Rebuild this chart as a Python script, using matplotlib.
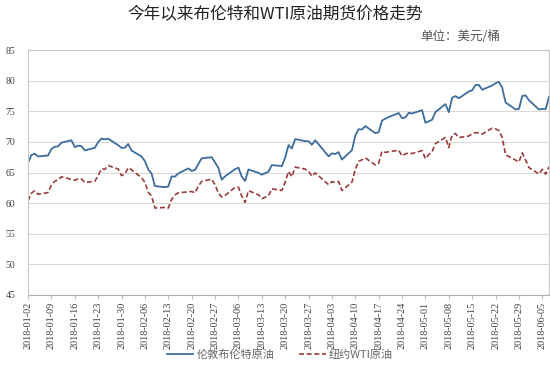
import matplotlib
matplotlib.use("Agg")
import matplotlib.pyplot as plt
import pandas as pd

title = "今年以来布伦特和WTI原油期货价格走势"
unit_label = "单位：美元/桶"
brent_name = "伦敦布伦特原油"
wti_name = "纽约WTI原油"

dates = [
    "2018-01-02", "2018-01-03", "2018-01-04", "2018-01-05", "2018-01-08", "2018-01-09", "2018-01-10",
    "2018-01-11", "2018-01-12", "2018-01-15", "2018-01-16", "2018-01-17", "2018-01-18", "2018-01-19",
    "2018-01-22", "2018-01-23", "2018-01-24", "2018-01-25", "2018-01-26", "2018-01-29", "2018-01-30",
    "2018-01-31",
    "2018-02-01", "2018-02-02", "2018-02-05", "2018-02-06", "2018-02-07", "2018-02-08", "2018-02-09",
    "2018-02-12", "2018-02-13", "2018-02-14", "2018-02-15", "2018-02-16", "2018-02-19", "2018-02-20",
    "2018-02-21", "2018-02-22", "2018-02-23", "2018-02-26", "2018-02-27", "2018-02-28",
    "2018-03-01", "2018-03-02", "2018-03-05", "2018-03-06", "2018-03-07", "2018-03-08", "2018-03-09",
    "2018-03-12", "2018-03-13", "2018-03-14", "2018-03-15", "2018-03-16", "2018-03-19", "2018-03-20",
    "2018-03-21", "2018-03-22", "2018-03-23", "2018-03-26", "2018-03-27", "2018-03-28", "2018-03-29",
    "2018-04-02", "2018-04-03", "2018-04-04", "2018-04-05", "2018-04-06", "2018-04-09", "2018-04-10",
    "2018-04-11", "2018-04-12", "2018-04-13", "2018-04-16", "2018-04-17", "2018-04-18", "2018-04-19",
    "2018-04-20", "2018-04-23", "2018-04-24", "2018-04-25", "2018-04-26", "2018-04-27", "2018-04-30",
    "2018-05-01", "2018-05-02", "2018-05-03", "2018-05-04", "2018-05-07", "2018-05-08", "2018-05-09",
    "2018-05-10", "2018-05-11", "2018-05-14", "2018-05-15", "2018-05-16", "2018-05-17", "2018-05-18",
    "2018-05-21", "2018-05-22", "2018-05-23", "2018-05-24", "2018-05-25", "2018-05-28", "2018-05-29",
    "2018-05-30", "2018-05-31",
    "2018-06-01", "2018-06-04", "2018-06-05", "2018-06-06", "2018-06-07",
]

brent = [
    66.57, 67.84, 68.07, 67.62, 67.78, 68.82, 69.20, 69.26, 69.87, 70.26, 69.15, 69.38, 69.31, 68.61,
    69.03, 69.96, 70.53, 70.42, 70.52, 69.46, 69.02, 69.05,
    69.65, 68.58, 67.62, 66.86, 65.51, 64.81, 62.79, 62.59, 62.72, 64.36, 64.33, 64.84, 65.67, 65.25,
    65.42, 66.39, 67.31, 67.50, 66.63, 65.78,
    63.83, 64.37, 65.54, 65.79, 64.34, 63.61, 65.49, 64.95, 64.64, 64.89, 65.12, 66.21, 66.05, 67.42,
    69.47, 68.91, 70.45, 70.12, 70.11, 69.53, 70.27,
    67.64, 68.12, 68.02, 68.33, 67.11, 68.65, 71.04, 72.06, 72.02, 72.58, 71.42, 71.58, 73.48, 73.78,
    74.06, 74.71, 73.86, 74.00, 74.74, 74.64, 75.17,
    73.13, 73.36, 73.62, 74.87, 76.17, 74.85, 77.21, 77.47, 77.12, 78.23, 78.43, 79.28, 79.30, 78.51,
    79.22, 79.57, 79.80, 78.79, 76.44, 75.30, 75.39, 77.50, 77.59,
    76.79, 75.29, 75.38, 75.36, 77.32,
]

wti = [
    60.37, 61.63, 62.01, 61.44, 61.73, 62.96, 63.57, 63.80, 64.30, None, 63.73, 63.97, 63.95, 63.37,
    63.57, 64.47, 65.61, 65.51, 66.14, 65.56, 64.50, 64.73,
    65.80, 65.45, 64.15, 63.39, 61.79, 61.15, 59.20, 59.29, 59.19, 60.60, 61.34, 61.68, None, 61.90,
    61.68, 62.77, 63.55, 63.91, 63.01, 61.64,
    60.99, 61.25, 62.57, 62.60, 61.15, 60.12, 62.04, 61.36, 60.71, 60.96, 61.19, 62.34, 62.06, 63.40,
    65.17, 64.30, 65.88, 65.55, 65.25, 64.38, 64.94,
    63.01, 63.51, 63.37, 63.54, 62.06, 63.42, 65.51, 66.82, 67.07, 67.39, 66.22, 66.52, 68.47, 68.29,
    68.38, 68.64, 67.70, 68.05, 68.19, 68.10, 68.57,
    67.25, 67.93, 68.43, 69.72, 70.73, 69.06, 71.14, 71.36, 70.70, 70.96, 71.31, 71.49, 71.49, 71.28,
    72.24, 72.13, 71.84, 70.71, 67.88, None, 66.73, 68.21, 67.04,
    65.81, 64.75, 65.52, 64.73, 65.95,
]

tick_dates = ["2018-01-02", "2018-01-09", "2018-01-16", "2018-01-23", "2018-01-30", "2018-02-06",
              "2018-02-13", "2018-02-20", "2018-02-27", "2018-03-06", "2018-03-13", "2018-03-20",
              "2018-03-27", "2018-04-03", "2018-04-10", "2018-04-17", "2018-04-24", "2018-05-01",
              "2018-05-08", "2018-05-15", "2018-05-22", "2018-05-29", "2018-06-05"]
y_ticks = [45, 50, 55, 60, 65, 70, 75, 80, 85]

df = pd.DataFrame({"date": pd.to_datetime(dates),
                   "brent": pd.array(brent, dtype="Float64"),
                   "wti": pd.array(wti, dtype="Float64")})

plt.rcParams['font.family'] = ['Noto Sans CJK SC', 'DejaVu Sans']

fig = plt.figure(figsize=(5.5, 3.7), dpi=100)
ax = fig.add_axes([28/550, 1-295/370, (549-28)/550, (295-50)/370])

b = df[["date", "brent"]].dropna()
w = df[["date", "wti"]].dropna()
ax.plot(b["date"], b["brent"].astype(float), color="#3d6d9c", lw=1.3, label=brent_name,
        solid_joinstyle="round")
ax.plot(w["date"], w["wti"].astype(float), color="#9a3b3b", lw=1.2, linestyle=(0, (3, 1.6)),
        label=wti_name)

ax.set_ylim(45, 85)
ax.set_yticks(y_ticks)
ax.set_yticklabels([str(v) for v in y_ticks], family="Liberation Serif", fontsize=7, color="#404040")
ax.set_xlim(pd.Timestamp("2018-01-02"), pd.Timestamp("2018-06-07"))
tks = pd.to_datetime(tick_dates)
ax.set_xticks(tks)
ax.set_xticklabels(tick_dates, rotation=90, family="Liberation Serif", fontsize=7.3, color="#404040",
                   ha="center", va="top")
ax.grid(axis="y", color="#d9d9d9", lw=0.8)
ax.set_axisbelow(True)
ax.tick_params(axis="y", length=0, pad=9)
ax.tick_params(axis="x", length=3, color="#bfbfbf", direction="out", pad=2)
for s in ax.spines.values():
    s.set_color("#c8c8c8")
    s.set_linewidth(0.8)
ax.spines["bottom"].set_color("#b0b0b0")

fig.text(0.5, 1-15/370, title, ha="center", va="center", fontsize=12, color="#222222",
         family=["Noto Sans CJK SC"])
fig.text(500/550, 1-37/370, unit_label, ha="right", va="center", fontsize=9, color="#555555",
         family=["Noto Sans CJK SC"])

leg = fig.legend(loc="center", bbox_to_anchor=(280/550, 1-355/370), ncol=2, frameon=False,
                 fontsize=8, handlelength=2.4, columnspacing=2.2, handletextpad=0.3)
for t in leg.get_texts():
    t.set_color("#666666")

fig.savefig("out.png", dpi=100)
